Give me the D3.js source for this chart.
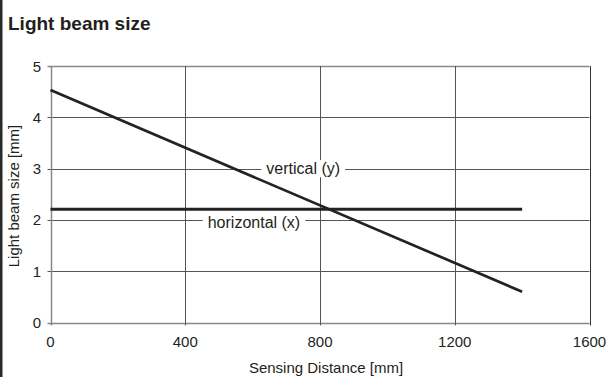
<!DOCTYPE html>
<html><head><meta charset="utf-8">
<script src="https://cdn.jsdelivr.net/npm/d3@7"></script>
<style>
body{margin:0;background:#fff;}
svg text{font-family:"Liberation Sans",Arial,sans-serif;}
</style></head>
<body>
<svg id="c" width="607" height="377"></svg>
<script>
const xTicks = [0, 400, 800, 1200, 1600];
const yTicks = [0, 1, 2, 3, 4, 5];
const verticalDist = [0, 1400];
const verticalSize = [4.53, 0.6];
const horizontalDist = [0, 1400];
const horizontalSize = [2.21, 2.21];
const seriesLabels = ["vertical (y)", "horizontal (x)"];

const svg = d3.select("#c");
const x = d3.scaleLinear().domain([0, 1600]).range([50.5, 589.5]);
const y = d3.scaleLinear().domain([0, 5]).range([322.5, 66]);
const ink = "#231f20";

svg.append("rect").attr("x", 0).attr("y", 0).attr("width", 2.5).attr("height", 377).attr("fill", "#2a2a2a");

svg.append("text").attr("x", 8).attr("y", 30).attr("font-size", 19).attr("font-weight", "bold").attr("fill", ink).text("Light beam size");

const g = svg.append("g");
yTicks.forEach(v => {
  g.append("line").attr("x1", x(0) - 3).attr("x2", x(1600)).attr("y1", Math.round(y(v)) + 0.5).attr("y2", Math.round(y(v)) + 0.5)
   .attr("stroke", (v === 0 || v === 5) ? "#888" : "#555").attr("stroke-width", (v === 0 || v === 5) ? 1.5 : 1);
});
xTicks.forEach(v => {
  g.append("line").attr("x1", Math.round(x(v)) + 0.5).attr("x2", Math.round(x(v)) + 0.5).attr("y1", y(5)).attr("y2", y(0) + 3)
   .attr("stroke", v === 0 ? "#888" : (v === 1600 ? "#333" : "#555")).attr("stroke-width", v === 0 ? 1.5 : 1);
});

yTicks.forEach(v => {
  g.append("text").attr("x", 41).attr("y", y(v) + 5.5).attr("text-anchor", "end").attr("font-size", 15).attr("fill", ink).text(v);
});
xTicks.forEach(v => {
  g.append("text").attr("x", x(v)).attr("y", 347).attr("text-anchor", "middle").attr("font-size", 15).attr("fill", ink).text(v);
});

svg.append("text").attr("transform", "translate(19,196) rotate(-90)").attr("text-anchor", "middle").attr("font-size", 15).attr("fill", ink).text("Light beam size [mm]");
svg.append("text").attr("x", 326).attr("y", 373).attr("text-anchor", "middle").attr("font-size", 15).attr("fill", ink).text("Sensing Distance [mm]");

const line = d3.line().x(d => x(d[0])).y(d => y(d[1]));

function label(txt, cx, cy) {
  const lg = svg.append("g");
  const bgRect = lg.append("rect").attr("fill", "#fff");
  const t = lg.append("text").attr("x", cx).attr("y", cy + 5.5).attr("text-anchor", "middle").attr("font-size", 16).attr("fill", ink).text(txt);
  const bb = t.node().getBBox();
  bgRect.attr("x", bb.x - 5).attr("y", bb.y).attr("width", bb.width + 10).attr("height", bb.height);
}

svg.append("path").datum(d3.zip(horizontalDist, horizontalSize)).attr("d", line).attr("fill", "none").attr("stroke", "#222").attr("stroke-width", 3);
label(seriesLabels[0], x(750), y(3));
label(seriesLabels[1], x(604), y(2) + 3);
svg.append("path").datum(d3.zip(verticalDist, verticalSize)).attr("d", line).attr("fill", "none").attr("stroke", "#222").attr("stroke-width", 2.7);
</script>
</body></html>
